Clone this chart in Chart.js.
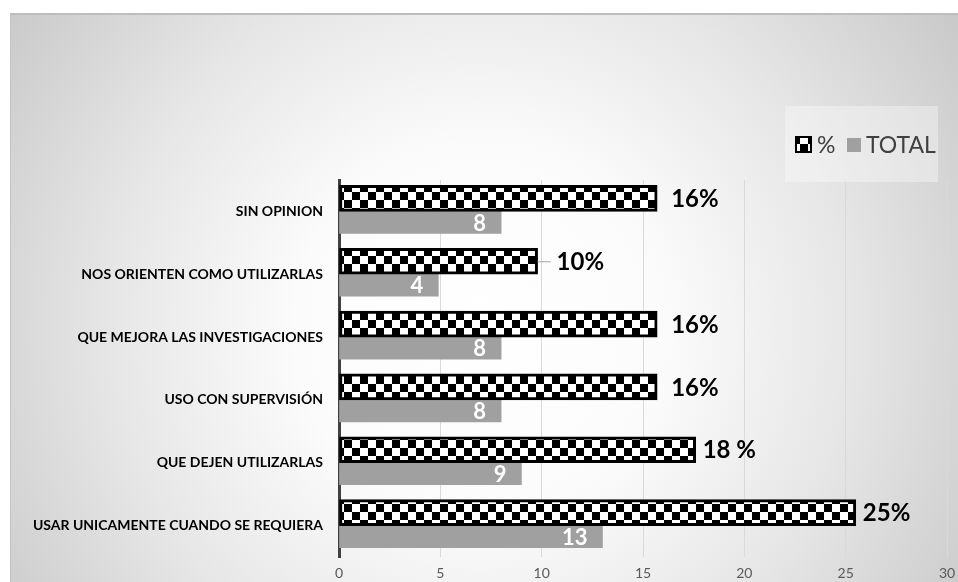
<!DOCTYPE html>
<html lang="es">
<head>
<meta charset="utf-8">
<title>Opiniones</title>
<script src="https://cdn.jsdelivr.net/npm/chart.js@4.4.1/dist/chart.umd.min.js"></script>
<style>
    html, body { margin: 0; padding: 0; background: #fff; }
    #chartOpiniones { display: block; }
</style>
</head>
<body>
<canvas id="chartOpiniones" width="958" height="582"></canvas>
<script>
// ============================================
// DATOS
// ============================================
const categorias = [
    'SIN OPINION',
    'NOS ORIENTEN COMO UTILIZARLAS',
    'QUE MEJORA LAS INVESTIGACIONES',
    'USO CON SUPERVISIÓN',
    'QUE DEJEN UTILIZARLAS',
    'USAR UNICAMENTE CUANDO SE REQUIERA'
];
const porcentajes = [15.7, 9.8, 15.7, 15.7, 17.6, 25.5];
const etiquetasPct = ['16%', '10%', '16%', '16%', '18 %', '25%'];
const totales = [8, 4.9, 8, 8, 9, 13];
const etiquetasTotal = ['8', '4', '8', '8', '9', '13'];
const ejeMin = 0;
const ejeMax = 30;
const ejePaso = 5;

// separacion de la etiqueta % respecto al final de la barra (px)
const separacionPct = [14, 19, 14, 14, 7, 7];
const lineaGuia = [false, true, false, false, false, false];

const FUENTE = 'Lato, "Open Sans", sans-serif';
const GRIS = '#a0a0a0';

// patron de tablero de ajedrez
function crearPatron(ctx) {
    const c = document.createElement('canvas');
    c.width = 16;
    c.height = 16;
    const g = c.getContext('2d');
    g.fillStyle = '#ffffff';
    g.fillRect(0, 0, 16, 16);
    g.fillStyle = '#000000';
    g.fillRect(0, 0, 8, 8);
    g.fillRect(8, 8, 8, 8);
    return ctx.createPattern(c, 'repeat');
}

const ctxBase = document.getElementById('chartOpiniones').getContext('2d');
const patron = crearPatron(ctxBase);

// fondo degradado del grafico
const fondo = {
    id: 'fondo',
    beforeDraw(chart) {
        const ctx = chart.ctx;
        ctx.save();
        ctx.fillStyle = '#ffffff';
        ctx.fillRect(0, 0, chart.width, chart.height);
        const grad = ctx.createRadialGradient(480, 330, 0, 480, 330, 620);
        grad.addColorStop(0, '#ffffff');
        grad.addColorStop(0.3, '#fbfbfb');
        grad.addColorStop(0.6, '#e6e6e6');
        grad.addColorStop(1, '#c2c2c2');
        ctx.fillStyle = grad;
        ctx.fillRect(10, 13, chart.width - 10, chart.height - 13);
        ctx.fillStyle = '#bdbdbd';
        ctx.fillRect(10, 13, chart.width - 10, 2);
        ctx.fillStyle = '#c4c4c4';
        ctx.fillRect(10, 13, 1, chart.height - 13);
        ctx.restore();
    }
};

// leyenda dibujada a mano
const leyenda = {
    id: 'leyenda',
    afterDraw(chart) {
        const ctx = chart.ctx;
        ctx.save();
        ctx.fillStyle = 'rgba(255,255,255,0.35)';
        ctx.fillRect(785, 106, 153, 76);

        ctx.fillStyle = patron;
        ctx.fillRect(796, 137, 15, 15);
        ctx.strokeStyle = '#000';
        ctx.lineWidth = 2;
        ctx.strokeRect(796, 137, 15, 15);

        ctx.fillStyle = GRIS;
        ctx.fillRect(847, 138, 14, 14);

        ctx.fillStyle = '#404040';
        ctx.font = '23px ' + FUENTE;
        ctx.textBaseline = 'middle';
        ctx.textAlign = 'left';
        ctx.fillText('%', 817, 146);
        ctx.fillText('TOTAL', 866, 146);
        ctx.restore();
    }
};

// etiquetas de valores
const etiquetas = {
    id: 'etiquetas',
    afterDatasetsDraw(chart) {
        const ctx = chart.ctx;
        const metaPct = chart.getDatasetMeta(0);
        const metaTot = chart.getDatasetMeta(1);
        ctx.save();
        ctx.textBaseline = 'middle';

        metaPct.data.forEach((bar, i) => {
            const x = bar.x + separacionPct[i];
            if (lineaGuia[i]) {
                ctx.strokeStyle = '#a6a6a6';
                ctx.lineWidth = 1;
                ctx.beginPath();
                ctx.moveTo(bar.x, bar.y + 0.5);
                ctx.lineTo(x - 6, bar.y + 0.5);
                ctx.stroke();
            }
            ctx.fillStyle = '#000';
            ctx.font = 'bold 24px ' + FUENTE;
            ctx.textAlign = 'left';
            ctx.fillText(etiquetasPct[i], x, bar.y + 1);
        });

        metaTot.data.forEach((bar, i) => {
            ctx.fillStyle = '#ffffff';
            ctx.font = 'bold 22px ' + FUENTE;
            ctx.textAlign = 'right';
            ctx.fillText(etiquetasTotal[i], bar.x - 15, bar.y + 1);
        });
        ctx.restore();
    }
};

new Chart(ctxBase, {
    type: 'bar',
    data: {
        labels: categorias,
        datasets: [
            {
                label: '%',
                data: porcentajes,
                backgroundColor: patron,
                borderColor: '#000000',
                borderWidth: 3,
                borderSkipped: false,
                barThickness: 26
            },
            {
                label: 'TOTAL',
                data: totales,
                backgroundColor: GRIS,
                borderWidth: 0,
                barThickness: 22
            }
        ]
    },
    options: {
        indexAxis: 'y',
        responsive: false,
        animation: false,
        layout: {
            padding: { left: 10, top: 180, right: 11, bottom: 1 }
        },
        plugins: {
            legend: { display: false },
            tooltip: { enabled: false }
        },
        scales: {
            x: {
                min: ejeMin,
                max: ejeMax,
                ticks: {
                    stepSize: ejePaso,
                    color: '#595959',
                    font: { family: FUENTE, size: 14 },
                    padding: 8
                },
                grid: {
                    color: '#d9d9d9',
                    drawTicks: false
                },
                border: { display: false },
                afterFit(scale) {
                    scale.height = 24;
                    scale.paddingRight = 0;
                }
            },
            y: {
                grid: { display: false, drawTicks: false },
                border: { color: '#404040', width: 3 },
                ticks: {
                    color: '#000000',
                    font: { family: FUENTE, size: 14, weight: 'bold' },
                    padding: 16
                },
                afterFit(scale) {
                    scale.width = 329;
                }
            }
        }
    },
    plugins: [fondo, etiquetas, leyenda]
});
</script>
</body>
</html>
